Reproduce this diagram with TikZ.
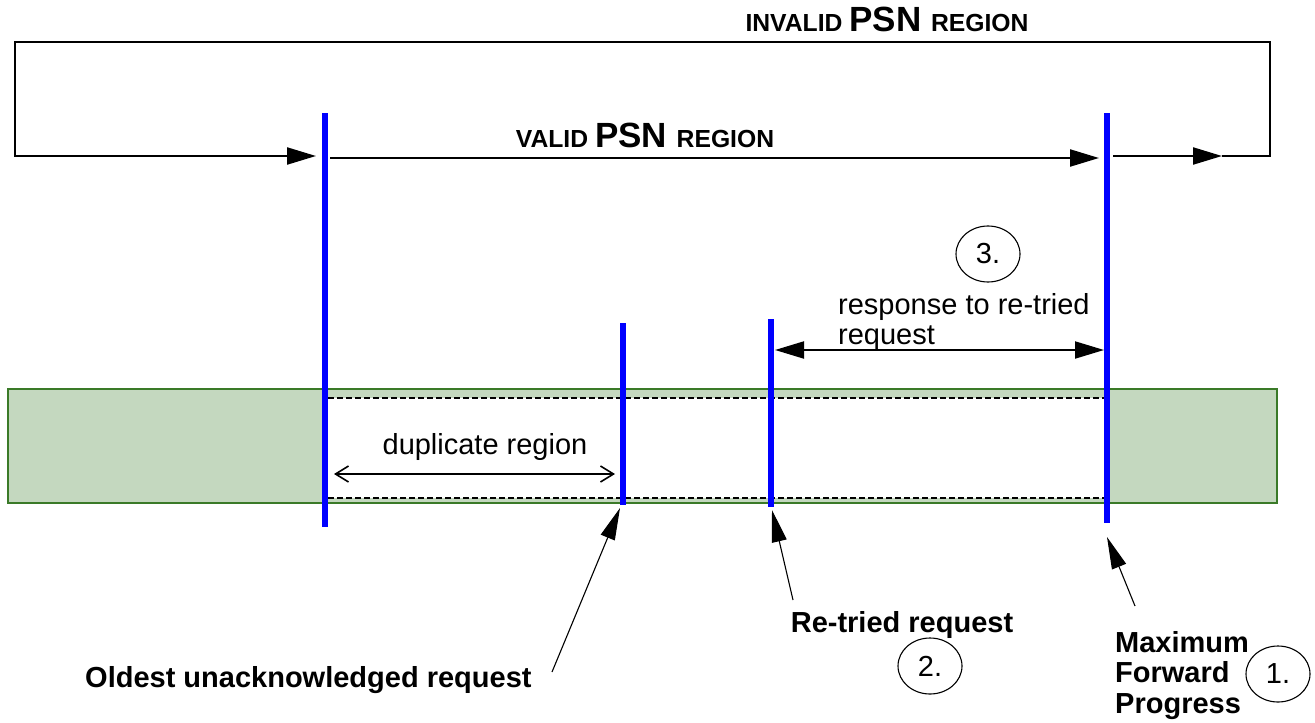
\documentclass[tikz,border=0pt]{standalone}
\usepackage{fontspec}
\setmainfont{Liberation Sans}
\usetikzlibrary{arrows.meta,shapes.geometric}
\definecolor{bandfill}{RGB}{196,216,191}
\definecolor{bandedge}{RGB}{58,122,40}
\definecolor{psnblue}{RGB}{0,0,255}
\begin{document}
\begin{tikzpicture}[x=1pt,y=-1pt,
  loopline/.style={line width=2.2pt,line join=miter},
  bigtip/.style={-{Triangle[length=29pt,width=17pt]}},
  bothtips/.style={{Triangle[length=29pt,width=17pt]}-{Triangle[length=29pt,width=17pt]}},
  pointer/.style={line width=1.1pt,-{Triangle[length=32pt,width=15pt]}},
  psnline/.style={psnblue,line width=6pt},
  dashline/.style={line width=1.6pt,dash pattern=on 6pt off 3pt},
  lbl/.style={inner sep=0pt,font=\fontsize{29}{30}\selectfont},
  blbl/.style={inner sep=0pt,font=\bfseries\fontsize{29}{30.5}\selectfont},
  numcirc/.style={draw,line width=1.1pt,ellipse,minimum width=64pt,minimum height=56pt,inner sep=0pt,font=\fontsize{29}{30}\selectfont}
]
\useasboundingbox (0,0) rectangle (1315,723);

% green band and white duplicate window
\draw[fill=bandfill,draw=bandedge,line width=2pt] (8,389) rectangle (1277,503);
\fill[white] (325,398) rectangle (1107,498);
\coordinate (dtl) at (328,398);
\coordinate (dtr) at (1104,398);
\coordinate (dbl) at (328,498);
\coordinate (dbr) at (1104,498);
\draw[dashline] (dtl) -- (dtr);
\draw[dashline] (dbl) -- (dbr);

% PSN marker lines
\coordinate (b1t) at (325,113); \coordinate (b1b) at (325,527);
\coordinate (b2t) at (623,323); \coordinate (b2b) at (623,505);
\coordinate (b3t) at (771,319); \coordinate (b3b) at (771,507);
\coordinate (b4t) at (1107,113); \coordinate (b4b) at (1107,523);
\draw[psnline] (b1t) -- (b1b);
\draw[psnline] (b2t) -- (b2b);
\draw[psnline] (b3t) -- (b3b);
\draw[psnline] (b4t) -- (b4b);

% invalid region loop
\coordinate (rs) at (1113,156);
\coordinate (rm) at (1222,156);
\coordinate (rc) at (1270,156);
\coordinate (tr) at (1270,42);
\coordinate (tl) at (15,42);
\coordinate (lc) at (15,156);
\coordinate (le) at (316,156);
\draw[loopline,bigtip] (rs) -- (rm);
\draw[loopline,bigtip] (rm) -- (rc) -- (tr) -- (tl) -- (lc) -- (le);

% valid region arrow
\coordinate (vs) at (330,158);
\coordinate (ve) at (1099,158);
\draw[loopline,bigtip] (vs) -- (ve);

% response arrow
\coordinate (ra) at (775,350);
\coordinate (rb) at (1104,350);
\draw[line width=2pt,bothtips] (ra) -- (rb);

% duplicate region arrow
\coordinate (da) at (334,474);
\coordinate (db) at (615,474);
\draw[line width=1.6pt,{Straight Barb[length=13pt,width=16pt]}-{Straight Barb[length=13pt,width=16pt]}] (da) -- (db);

% labels
\node[inner sep=0pt,anchor=base,font=\bfseries] (inv) at (887,31)
  {\fontsize{24.7}{25}\selectfont INVALID \fontsize{35}{35}\selectfont PSN \fontsize{24.7}{25}\selectfont REGION};
\node[inner sep=0pt,anchor=base,font=\bfseries] (val) at (645,147)
  {\fontsize{24.7}{25}\selectfont VALID \fontsize{35}{35}\selectfont PSN \fontsize{24.7}{25}\selectfont REGION};
\node[lbl,anchor=base] (dup) at (485,454) {duplicate region};
\node[lbl,anchor=base west,align=left] (resp) at (838,344) {response to re-tried\\request};
\node[numcirc] (c3) at (988,254) {3.};

\node[blbl,anchor=base west] (old) at (85,687) {Oldest unacknowledged request};
\node[blbl,anchor=base] (retr) at (902,632) {Re-tried request};
\node[numcirc] (c2) at (930,666) {2.};
\node[blbl,anchor=base west,align=left] (maxf) at (1115,713) {Maximum\\Forward\\Progress};
\node[numcirc] (c1) at (1278,674) {1.};

% pointers
\coordinate (p1s) at (552,672); \coordinate (p1e) at (620,508);
\coordinate (p2s) at (793,600); \coordinate (p2e) at (772,510);
\coordinate (p3s) at (1135,606); \coordinate (p3e) at (1107,537);
\draw[pointer] (p1s) -- (p1e);
\draw[pointer] (p2s) -- (p2e);
\draw[pointer] (p3s) -- (p3e);
\end{tikzpicture}
\end{document}
